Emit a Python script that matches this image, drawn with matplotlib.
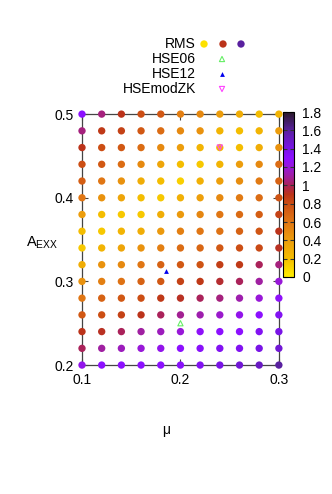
import numpy as np
import matplotlib
matplotlib.use('Agg')
import matplotlib.pyplot as plt
from matplotlib.colors import LinearSegmentedColormap

plt.rcParams['font.family'] = ['Liberation Sans', 'DejaVu Sans']
plt.rcParams['mathtext.default'] = 'regular'

# grid of (mu, A_EXX) and RMS values
mu = [0.10, 0.12, 0.14, 0.16, 0.18, 0.20, 0.22, 0.24, 0.26, 0.28, 0.30]
aexx = [0.50, 0.48, 0.46, 0.44, 0.42, 0.40, 0.38, 0.36,
        0.34, 0.32, 0.30, 0.28, 0.26, 0.24, 0.22, 0.20]
rms = [
    [1.30, 1.05, 0.90, 0.80, 0.75, 0.55, 0.50, 0.40, 0.30, 0.20, 0.25],
    [1.05, 0.88, 0.85, 0.75, 0.65, 0.50, 0.45, 0.25, 0.20, 0.25, 0.40],
    [0.90, 0.80, 0.75, 0.65, 0.50, 0.40, 0.25, 0.22, 0.20, 0.30, 0.45],
    [0.80, 0.75, 0.65, 0.50, 0.35, 0.20, 0.15, 0.25, 0.40, 0.50, 0.65],
    [0.72, 0.60, 0.45, 0.30, 0.20, 0.12, 0.28, 0.38, 0.48, 0.58, 0.70],
    [0.60, 0.45, 0.35, 0.20, 0.15, 0.28, 0.38, 0.50, 0.58, 0.65, 0.78],
    [0.40, 0.20, 0.15, 0.15, 0.30, 0.42, 0.52, 0.60, 0.66, 0.72, 0.85],
    [0.20, 0.15, 0.25, 0.30, 0.42, 0.55, 0.60, 0.62, 0.70, 0.76, 0.90],
    [0.15, 0.25, 0.35, 0.45, 0.55, 0.65, 0.68, 0.75, 0.80, 0.82, 0.92],
    [0.30, 0.45, 0.50, 0.60, 0.70, 0.75, 0.78, 0.86, 0.88, 1.00, 1.05],
    [0.45, 0.55, 0.62, 0.70, 0.75, 0.85, 0.88, 0.94, 1.00, 1.10, 1.20],
    [0.60, 0.70, 0.75, 0.80, 0.88, 0.92, 1.00, 1.05, 1.12, 1.20, 1.28],
    [0.75, 0.80, 0.85, 0.90, 1.00, 1.08, 1.12, 1.18, 1.25, 1.30, 1.35],
    [0.90, 0.92, 1.00, 1.10, 1.15, 1.20, 1.28, 1.30, 1.30, 1.35, 1.40],
    [1.00, 1.10, 1.15, 1.20, 1.25, 1.30, 1.32, 1.35, 1.36, 1.40, 1.45],
    [1.25, 1.30, 1.30, 1.30, 1.30, 1.32, 1.35, 1.40, 1.45, 1.50, 1.60],
]

# functional reference points
hse06 = (0.20, 0.25)
hse12 = (0.185, 0.313)
hsemodzk = (0.24, 0.46)

palette = [
    (0.0 / 1.8, '#ffee00'),
    (0.1 / 1.8, '#fad400'),
    (0.2 / 1.8, '#f4bc00'),
    (0.4 / 1.8, '#ec9c0c'),
    (0.6 / 1.8, '#e07614'),
    (0.8 / 1.8, '#cc4e14'),
    (0.9 / 1.8, '#bc3418'),
    (1.0 / 1.8, '#aa2258'),
    (1.1 / 1.8, '#a020a0'),
    (1.2 / 1.8, '#9818d8'),
    (1.3 / 1.8, '#8c10ff'),
    (1.4 / 1.8, '#7a14e8'),
    (1.6 / 1.8, '#5a20a0'),
    (1.8 / 1.8, '#2a1a2a'),
]
cmap = LinearSegmentedColormap.from_list('rms', palette)

fig = plt.figure(figsize=(3.32, 4.94), dpi=100)
ax = fig.add_axes([0.247, 0.261, 0.593, 0.508])

X, Y = np.meshgrid(mu, aexx)
sc = ax.scatter(X.ravel(), Y.ravel(), c=np.array(rms).ravel(), cmap=cmap,
                vmin=0, vmax=1.8, s=28, linewidths=0, clip_on=False, zorder=3)

ax.scatter([hse06[0]], [hse06[1]], marker='^', s=14, facecolors='none',
           edgecolors='#66ee66', linewidths=0.8, clip_on=False, zorder=4)
ax.scatter([hse12[0]], [hse12[1]], marker='^', s=12, color='#0000ee',
           linewidths=0, clip_on=False, zorder=4)
ax.scatter([hsemodzk[0]], [hsemodzk[1]], marker='v', s=14, facecolors='none',
           edgecolors='#ff44ff', linewidths=0.8, clip_on=False, zorder=4)

ax.set_xlim(0.1, 0.3)
ax.set_ylim(0.2, 0.5)
ax.set_xticks([0.1, 0.2, 0.3])
ax.set_yticks([0.2, 0.3, 0.4, 0.5])
ax.xaxis.set_major_formatter(matplotlib.ticker.FormatStrFormatter('%g'))
ax.yaxis.set_major_formatter(matplotlib.ticker.FormatStrFormatter('%g'))
ax.tick_params(direction='in', top=True, right=True, length=4, width=0.8,
               colors='#444444', labelcolor='black', labelsize=10, pad=6)
for sp in ax.spines.values():
    sp.set_color('#444444')
    sp.set_linewidth(0.9)

fig.text(42 / 332, 1 - 243 / 494, r'A$_{EXX}$', ha='center', va='center', fontsize=10.5)
fig.text(166 / 332, 1 - 430 / 494, 'μ', ha='center', va='center', fontsize=10)

# colorbar
cax = fig.add_axes([283 / 332, 1 - 277 / 494, 11 / 332, 165 / 494])
cb = fig.colorbar(sc, cax=cax, ticks=np.arange(0, 1.81, 0.2))
cb.ax.yaxis.set_major_formatter(matplotlib.ticker.FormatStrFormatter('%g'))
cb.ax.tick_params(direction='in', left=True, right=True, length=3, width=0.8,
                  colors='#333333', labelcolor='black', labelsize=10, pad=6)
cb.outline.set_linewidth(0.8)

# key at top
keyx = 196 / 332
rows_y = [44, 59, 74, 89]
labels = ['RMS', 'HSE06', 'HSE12', 'HSEmodZK']
for lab, yy in zip(labels, rows_y):
    fig.text(keyx, 1 - yy / 494, lab, ha='right', va='center', fontsize=10)

kax = fig.add_axes([0, 0, 1, 1], facecolor='none')
kax.set_xlim(0, 332)
kax.set_ylim(494, 0)
kax.axis('off')
kax.scatter([204, 223, 241], [44, 44, 44], c=[0.05, 0.9, 1.6], cmap=cmap,
            vmin=0, vmax=1.8, s=28, linewidths=0)
kax.scatter([222], [59], marker='^', s=14, facecolors='none',
            edgecolors='#66ee66', linewidths=0.8)
kax.scatter([222], [74], marker='^', s=12, color='#0000ee', linewidths=0)
kax.scatter([222], [89], marker='v', s=14, facecolors='none',
            edgecolors='#ff44ff', linewidths=0.8)

plt.savefig('out.png', dpi=100)
